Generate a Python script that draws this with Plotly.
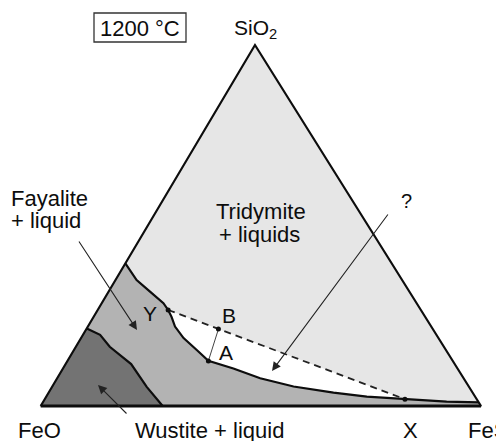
import plotly.graph_objects as go

# ---------------- data (compositions in wt%: SiO2, FeO, FeS) ----------------
# liquidus boundary (Fayalite+liquid / Tridymite+liquids, continuing to FeS)
liq_sio2 = [39.5, 34.9, 31.7, 28.5, 26.6, 24.7, 22.0, 18.8, 15.5, 12.5, 10.4, 7.7, 5.4, 3.7, 2.6, 1.9, 1.2, 1.0]
liq_feo  = [60.5, 60.3, 58.9, 57.5, 57.4, 57.6, 58.2, 57.9, 56.6, 55.5, 50.9, 46.2, 39.8, 31.6, 24.6, 16.3, 7.2, 0.0]
liq_fes  = [0.0, 4.8, 9.4, 14.0, 16.0, 17.7, 19.8, 23.3, 27.9, 32.0, 38.7, 46.1, 54.8, 64.7, 72.8, 81.8, 91.6, 99.0]
IDX_Y, IDX_A, IDX_X = 4, 9, 15

# wustite boundary
wus_sio2 = [21.5, 19.7, 16.4, 11.6, 5.3, 0.0]
wus_feo  = [78.5, 76.4, 75.9, 73.5, 73.2, 72.3]
wus_fes  = [0.0, 3.9, 7.7, 14.9, 21.5, 27.7]

# point B on the Y-X tie line
B_comp = (21.3, 48.7, 30.0)

corner_names = ["FeO", "FeS", "SiO<sub>2</sub>"]

# ---------------- geometry ----------------
W, H = 504, 441
OFF = 8                # page body margin of the html page
SKEW = 0.4867          # horizontal position of the SiO2 apex (fraction of base)
X0, XS = 40.7, 4.403   # pixel of FeO corner, pixels per % along base
Y0, YS = 406.0, 3.61   # pixel of base, pixels per % SiO2


def xy(s, o, f):
    t = s + o + f
    s, f = s / t * 100.0, f / t * 100.0
    return f + SKEW * s, s


def path(S, O, F):
    pts = [xy(s, o, f) for s, o, f in zip(S, O, F)]
    return [p[0] for p in pts], [p[1] for p in pts]


def px(xp, yp):
    return (xp - X0) / XS, (Y0 - yp) / YS


LIGHT, MED, DARK = "#e6e6e6", "#b3b3b3", "#737373"
FONT = "Liberation Sans, Arial, Helvetica, sans-serif"
INK = "#0d0d0d"

lx, ly = path(liq_sio2, liq_feo, liq_fes)
wx, wy = path(wus_sio2, wus_feo, wus_fes)
fe_o = xy(0, 100, 0)
fe_s = xy(0, 0, 100)
si_o = xy(100, 0, 0)
bx, by = xy(*B_comp)

fig = go.Figure()

# whole triangle (Tridymite + liquids)
fig.add_trace(go.Scatter(x=[fe_o[0], fe_s[0], si_o[0], fe_o[0]], y=[fe_o[1], fe_s[1], si_o[1], fe_o[1]],
                         fill="toself", fillcolor=LIGHT, mode="lines", line=dict(width=0), hoverinfo="skip"))
# white two-liquid field between Y-X tie line and liquidus
wxs = lx[IDX_Y:IDX_X + 1] + [lx[IDX_Y]]
wys = ly[IDX_Y:IDX_X + 1] + [ly[IDX_Y]]
fig.add_trace(go.Scatter(x=wxs, y=wys, fill="toself", fillcolor="white", mode="lines",
                         line=dict(width=0), hoverinfo="skip"))
# Fayalite + liquid field
fx = lx + [fe_s[0]] + wx[::-1] + [lx[0]]
fy = ly + [fe_s[1]] + wy[::-1] + [ly[0]]
fig.add_trace(go.Scatter(x=fx, y=fy, fill="toself", fillcolor=MED, mode="lines",
                         line=dict(width=0), hoverinfo="skip"))
# Wustite + liquid field
dx = [fe_o[0]] + wx + [fe_o[0]]
dy = [fe_o[1]] + wy + [fe_o[1]]
fig.add_trace(go.Scatter(x=dx, y=dy, fill="toself", fillcolor=DARK, mode="lines",
                         line=dict(width=0), hoverinfo="skip"))

# boundaries
fig.add_trace(go.Scatter(x=lx, y=ly, mode="lines", line=dict(color=INK, width=2.2), hoverinfo="skip"))
fig.add_trace(go.Scatter(x=wx, y=wy, mode="lines", line=dict(color=INK, width=2.2), hoverinfo="skip"))
# tie line Y - X (dashed)
fig.add_trace(go.Scatter(x=[lx[IDX_Y], lx[IDX_X]], y=[ly[IDX_Y], ly[IDX_X]], mode="lines",
                         line=dict(color="#222", width=1.8, dash="7px,5px"), hoverinfo="skip"))
# A - B
fig.add_trace(go.Scatter(x=[lx[IDX_A], bx], y=[ly[IDX_A], by], mode="lines",
                         line=dict(color="#444", width=1), hoverinfo="skip"))
# triangle outline
fig.add_trace(go.Scatter(x=[fe_o[0], fe_s[0], si_o[0], fe_o[0]], y=[fe_o[1], fe_s[1], si_o[1], fe_o[1]],
                         mode="lines", line=dict(color=INK, width=2.2), hoverinfo="skip"))
fig.add_trace(go.Scatter(x=[fe_o[0], fe_s[0]], y=[fe_o[1], fe_s[1]], mode="lines",
                         line=dict(color=INK, width=3), hoverinfo="skip"))
# points
fig.add_trace(go.Scatter(x=[lx[IDX_Y], bx, lx[IDX_A], lx[IDX_X]], y=[ly[IDX_Y], by, ly[IDX_A], ly[IDX_X]],
                         mode="markers", marker=dict(color=INK, size=5), hoverinfo="skip"))

ann = []


def label(text, xp, yp, size=22, xanchor="center"):
    x, y = px(xp, yp)
    ann.append(dict(x=x, y=y, xref="x", yref="y", text=text, showarrow=False, xanchor=xanchor,
                    yanchor="middle", font=dict(family=FONT, size=size, color=INK)))


def arrow(x_tail, y_tail, x_tip, y_tip):
    x, y = px(x_tip, y_tip)
    ax, ay = px(x_tail, y_tail)
    ann.append(dict(x=x, y=y, ax=ax, ay=ay, xref="x", yref="y", axref="x", ayref="y", text="",
                    showarrow=True, arrowhead=2, arrowsize=1.6, arrowwidth=1.1, arrowcolor="#222"))


label("1200 °C", 140, 28, size=22)
label(corner_names[2], 255, 29, size=21)
label(corner_names[0], 39, 430)
label(corner_names[1], 466, 430, xanchor="left")
label("X", 410, 430)
label("Wustite + liquid", 209, 430)
label("Fayalite", 9, 198, xanchor="left")
label("+ liquid", 9, 220, xanchor="left")
label("Tridymite", 261, 211)
label("+ liquids", 259, 234)
label("?", 406, 201, size=20)
label("Y", 150, 313, size=21)
label("B", 229, 315, size=21)
label("A", 226, 352, size=21)

arrow(78, 240, 137, 330)
arrow(128, 415, 98, 385)
arrow(389, 213, 272, 371)

fig.update_layout(
    width=W, height=H, margin=dict(l=0, r=0, t=0, b=0),
    paper_bgcolor="white", plot_bgcolor="white", showlegend=False,
    xaxis=dict(range=[(OFF - X0) / XS, (W + OFF - X0) / XS], visible=False, fixedrange=True),
    yaxis=dict(range=[(Y0 - H - OFF) / YS, (Y0 - OFF) / YS], visible=False, fixedrange=True),
    annotations=ann,
    shapes=[dict(type="rect", xref="paper", yref="paper", x0=(94 - OFF) / W, x1=(186 - OFF) / W,
                 y0=1 - (42 - OFF) / H, y1=1 - (13 - OFF) / H, line=dict(color="#333", width=1.3))],
)

fig.write_html("out.html")
